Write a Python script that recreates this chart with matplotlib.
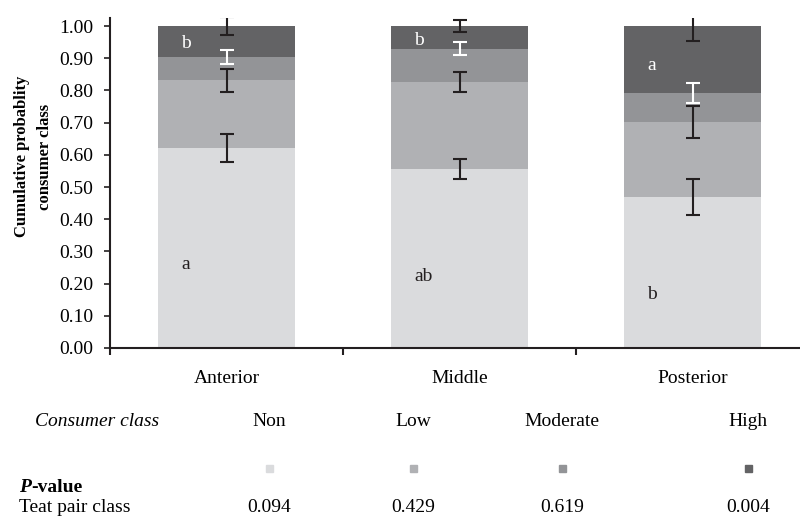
import matplotlib
matplotlib.use("Agg")
import matplotlib.pyplot as plt
import numpy as np
from matplotlib.patches import Rectangle

plt.rcParams['font.family'] = ['Liberation Serif', 'DejaVu Serif']

# data
regioes = ["Anterior", "Middle", "Posterior"]
classes = ["Non", "Low", "Moderate", "High"]
non = [0.621, 0.556, 0.469]
low = [0.211, 0.270, 0.233]
moderate = [0.072, 0.103, 0.090]
high = [0.096, 0.071, 0.208]
erro_non = [0.043, 0.031, 0.056]
erro_low = [0.036, 0.030, 0.049]
erro_mod = [0.022, 0.020, 0.031]
erro_high = [0.027, 0.019, 0.047]
letras_non = ["a", "ab", "b"]
letras_high = ["b", "b", "a"]
p_valores = ["0.094", "0.429", "0.619", "0.004"]

cores = ["#dadbdd", "#b0b1b4", "#939497", "#636365"]
cor_erro = ["#231f20", "#231f20", "white", "#231f20"]

W, H = 800, 521
fig = plt.figure(figsize=(W / 100, H / 100), dpi=100)
ax = fig.add_axes([110 / W, 1 - 348 / H, 699 / W, 330 / H])

x = np.arange(len(regioes))
largura = 0.59
base = np.zeros(3)
series = [non, low, moderate, high]
erros = [erro_non, erro_low, erro_mod, erro_high]
for i, vals in enumerate(series):
    vals = np.array(vals)
    ax.bar(x, vals, largura, bottom=base, color=cores[i], zorder=2)
    topo = base + vals
    ax.errorbar(x, topo, yerr=erros[i], fmt="none", ecolor=cor_erro[i],
                elinewidth=1.5, capsize=5, capthick=1.5, zorder=3)
    base = topo

# letras
y_non = [0.258, 0.222, 0.165]
y_high = [0.947, 0.955, 0.879]
for i in range(3):
    ax.text(x[i] - largura / 2 + 0.1, y_non[i], letras_non[i], fontsize=14,
            ha="left", va="center", color="#231f20", zorder=4)
    ax.text(x[i] - largura / 2 + 0.1, y_high[i], letras_high[i], fontsize=14,
            ha="left", va="center", color="white", zorder=4)

ax.set_xlim(-0.5, 2.5)
ax.set_ylim(0, 1.025)
ax.set_yticks(np.arange(0, 1.01, 0.1))
ax.set_yticklabels([f"{v:.2f}" for v in np.arange(0, 1.01, 0.1)])
ax.set_xticks([-0.5, 0.5, 1.5, 2.5])
ax.set_xticklabels([])
ax.set_xticks(x, minor=True)
ax.set_xticklabels(regioes, minor=True)
ax.tick_params(axis="x", which="minor", length=0, pad=16, labelsize=14)
ax.tick_params(axis="x", which="major", length=5, width=1.5, direction="out", color="#231f20")
ax.tick_params(axis="y", length=4, width=1.2, pad=8, labelsize=14, color="#231f20")
for lado in ["top", "right"]:
    ax.spines[lado].set_visible(False)
for lado in ["left", "bottom"]:
    ax.spines[lado].set_color("#231f20")
    ax.spines[lado].set_linewidth(1.5)
ax.spines["bottom"].set_zorder(5)

ax.set_ylabel("Cumulative probablity\nconsumer class", fontsize=12, fontweight="bold",
              linespacing=1.6)
ax.yaxis.set_label_coords(-(110 - 53) / 699, 0.58)

# tabela de baixo
def px(xp, yp):
    return xp / W, 1 - yp / H

col_x = [269, 413, 562, 748]
fig.text(*px(97, 422), "Consumer class", fontsize=14, style="italic", ha="center", va="center")
for i, c in enumerate(classes):
    fig.text(*px(col_x[i], 422), c, fontsize=14, ha="center", va="center")
    fig.add_artist(Rectangle(px(col_x[i] - 3.5, 471.5), 7 / W, 7 / H,
                             transform=fig.transFigure, color=cores[i]))
    fig.text(*px(col_x[i], 508), p_valores[i], fontsize=14, ha="center", va="center")

t_p = fig.text(*px(19, 488), "P", fontsize=14, ha="left", va="center",
               fontweight="bold", style="italic")
fig.canvas.draw()
bb = t_p.get_window_extent()
fig.text(bb.x1 / W, 1 - 488 / H, "-value", fontsize=14, ha="left", va="center",
         fontweight="bold")
fig.text(*px(19, 508), "Teat pair class", fontsize=14, ha="left", va="center")

fig.savefig("out.png", dpi=100)
